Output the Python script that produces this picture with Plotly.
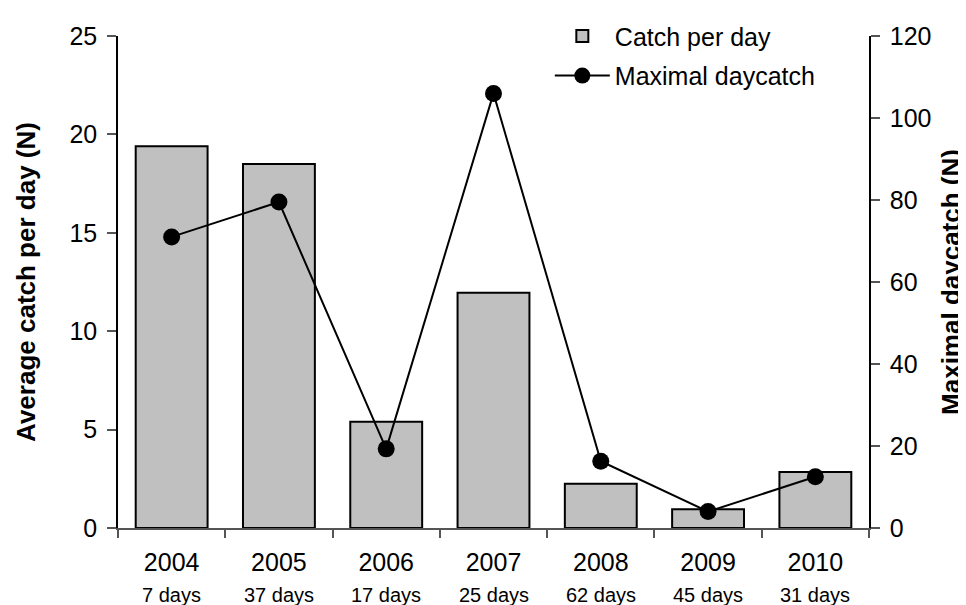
import plotly.graph_objects as go

years = ["2004", "2005", "2006", "2007", "2008", "2009", "2010"]
days = ["7 days", "37 days", "17 days", "25 days", "62 days", "45 days", "31 days"]
catch_per_day = [19.4, 18.5, 5.4, 11.95, 2.25, 0.95, 2.85]
max_daycatch = [71, 79.5, 19.3, 106, 16.3, 4.0, 12.5]

left_ticks = [0, 5, 10, 15, 20, 25]
right_ticks = [0, 20, 40, 60, 80, 100, 120]

FONT = "Liberation Sans, Arial, sans-serif"

xpos = list(range(len(years)))
bounds = [i - 0.5 for i in range(len(years) + 1)]

fig = go.Figure()
fig.add_trace(go.Bar(
    x=xpos, y=catch_per_day, name="Catch per day", legendgroup="a",
    marker=dict(color="#C0C0C0", line=dict(color="black", width=2)),
    yaxis="y",
))
fig.add_trace(go.Scatter(
    x=xpos, y=max_daycatch, name="Maximal daycatch", legendgroup="b",
    mode="lines+markers",
    line=dict(color="black", width=2),
    marker=dict(color="black", size=17),
    yaxis="y2",
))

for xp, d in zip(xpos, days):
    fig.add_annotation(x=xp, y=0, xref="x", yref="paper", text=d,
                       showarrow=False, yanchor="middle", yshift=-67,
                       borderpad=0,
                       font=dict(family=FONT, size=20, color="black"))

fig.update_layout(
    width=966, height=605,
    margin=dict(l=110, r=105, t=28, b=85, autoexpand=False),
    paper_bgcolor="white", plot_bgcolor="white",
    font=dict(family=FONT, size=24, color="black"),
    bargap=0.33,
    showlegend=True,
    legend=dict(x=0.575, y=1.046, xanchor="left", yanchor="top",
                font=dict(family=FONT, size=25, color="black"),
                bgcolor="rgba(0,0,0,0)", itemwidth=55,
                tracegroupgap=4),
    xaxis=dict(
        range=[-0.5, len(years) - 0.5], tickvals=xpos, ticktext=years,
        showline=True, linecolor="#555555", linewidth=1.5,
        ticks="", showgrid=False, zeroline=False,
        minor=dict(tickvals=bounds, ticks="outside", ticklen=8,
                   tickcolor="#555555", tickwidth=1.5, showgrid=False),
        tickfont=dict(family=FONT, size=25, color="black"),
        ticklabelstandoff=11,
    ),
    yaxis=dict(
        range=[0, 25], tickvals=left_ticks, showline=True, linecolor="black",
        linewidth=1.5, ticks="outside", ticklen=9, tickcolor="#555555",
        tickwidth=1.5, showgrid=False, zeroline=False,
        tickfont=dict(family=FONT, size=25, color="black"),
        ticklabelstandoff=5,
        title=dict(text="<b>Average catch per day (N)</b>", standoff=26,
                   font=dict(family=FONT, size=26, color="black")),
    ),
    yaxis2=dict(
        range=[0, 120], tickvals=right_ticks, overlaying="y", side="right",
        showline=True, linecolor="black", linewidth=1.5, ticks="outside",
        ticklen=9, tickcolor="#555555", tickwidth=1.5, showgrid=False,
        zeroline=False,
        tickfont=dict(family=FONT, size=25, color="black"),
        ticklabelstandoff=5,
        title=dict(text="<b>Maximal daycatch (N)</b>", standoff=11,
                   font=dict(family=FONT, size=26, color="black")),
    ),
)

fig.write_html("out.html")
